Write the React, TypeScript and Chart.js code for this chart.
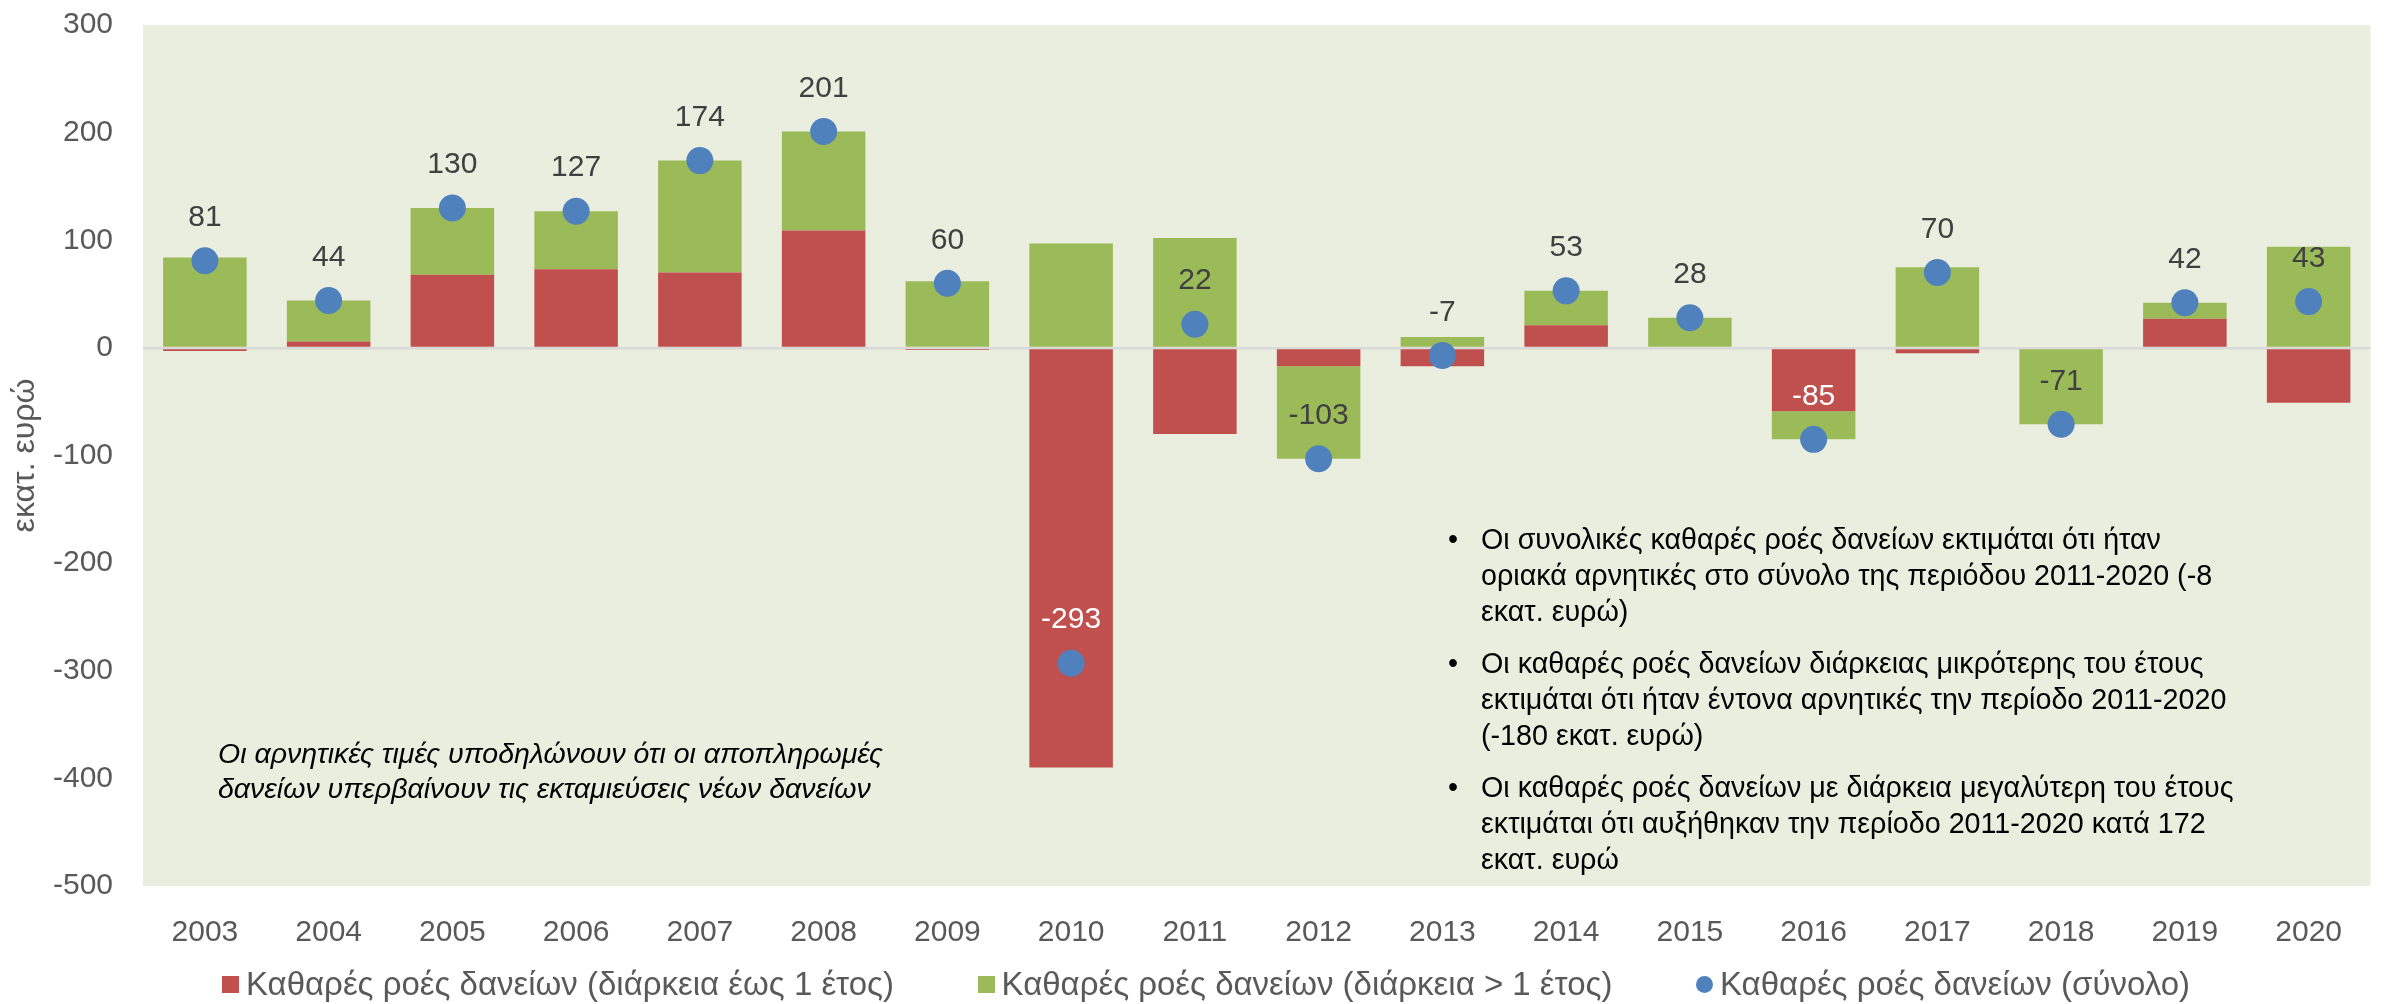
import React, { useEffect, useRef } from "react";
import { Chart, registerables } from "chart.js";

Chart.register(...registerables);

// ---------- data ----------
const years = ["2003", "2004", "2005", "2006", "2007", "2008", "2009", "2010", "2011", "2012", "2013", "2014", "2015", "2016", "2017", "2018", "2019", "2020"];
const shortTermFlows = [-3, 6, 68, 73, 70, 109, -2, -390, -80, -17, -17, 21, 0, -59, -5, 0, 27, -51];
const longTermFlows = [84, 38, 62, 54, 104, 92, 62, 97, 102, -86, 10, 32, 28, -26, 75, -71, 15, 94];
const totalFlows = [81, 44, 130, 127, 174, 201, 60, -293, 22, -103, -7, 53, 28, -85, 70, -71, 42, 43];
const seriesNames = [
  "Καθαρές ροές δανείων (διάρκεια έως 1 έτος)",
  "Καθαρές ροές δανείων (διάρκεια > 1 έτος)",
  "Καθαρές ροές δανείων (σύνολο)",
];
const yMin = -500;
const yMax = 300;
const yStep = 100;
const yAxisTitle = "εκατ. ευρώ";
const whiteLabelYears = ["2010", "2016"];
const noteLines = [
  "Οι αρνητικές τιμές υποδηλώνουν ότι οι αποπληρωμές",
  "δανείων υπερβαίνουν τις εκταμιεύσεις νέων δανείων",
];
const bulletParagraphs = [
  [
    "Οι συνολικές καθαρές ροές δανείων εκτιμάται ότι ήταν",
    "οριακά αρνητικές στο σύνολο της περιόδου 2011-2020 (-8",
    "εκατ. ευρώ)",
  ],
  [
    "Οι καθαρές ροές δανείων διάρκειας μικρότερης του έτους",
    "εκτιμάται ότι ήταν έντονα αρνητικές την περίοδο 2011-2020",
    "(-180 εκατ. ευρώ)",
  ],
  [
    "Οι καθαρές ροές δανείων με διάρκεια μεγαλύτερη του έτους",
    "εκτιμάται ότι αυξήθηκαν την περίοδο 2011-2020 κατά 172",
    "εκατ. ευρώ",
  ],
];

// ---------- styles ----------
const FONT = "'Liberation Sans', Arial, sans-serif";
const RED = "#C0504D";
const GREEN = "#9BBB59";
const BLUE = "#4F81BD";
const PLOT_BG = "#EAEEDF";
const AXIS_TEXT = "#595959";
const W = 2384;
const H = 1004;

const plotBackground = {
  id: "plotBackground",
  beforeDraw(chart: any) {
    const { ctx, chartArea } = chart;
    ctx.save();
    ctx.fillStyle = PLOT_BG;
    ctx.fillRect(chartArea.left, chartArea.top, chartArea.right - chartArea.left, chartArea.bottom - chartArea.top);
    ctx.restore();
  },
};

const extraText = {
  id: "extraText",
  afterDatasetsDraw(chart: any) {
    const { ctx, chartArea } = chart;
    ctx.save();
    // value labels above the total points
    const meta = chart.getDatasetMeta(2);
    ctx.font = `30px ${FONT}`;
    ctx.textAlign = "center";
    ctx.textBaseline = "middle";
    meta.data.forEach((pt: any, i: number) => {
      ctx.fillStyle = whiteLabelYears.includes(years[i]) ? "#FFFFFF" : "#404040";
      ctx.fillText(String(totalFlows[i]), pt.x, pt.y - 43);
    });

    // y axis title
    ctx.fillStyle = AXIS_TEXT;
    ctx.font = `32px ${FONT}`;
    ctx.translate(25, (chartArea.top + chartArea.bottom) / 2);
    ctx.rotate(-Math.PI / 2);
    ctx.fillText(yAxisTitle, 0, 0);
    ctx.restore();

    // italic note
    ctx.save();
    ctx.fillStyle = "#000000";
    ctx.font = `italic 28.5px ${FONT}`;
    ctx.textAlign = "left";
    ctx.textBaseline = "middle";
    noteLines.forEach((line, i) => {
      ctx.fillText(line, chartArea.left + 75, chartArea.top + 730 + i * 35);
    });

    // bullet paragraphs
    ctx.font = `28.7px ${FONT}`;
    let y = chartArea.top + 516;
    bulletParagraphs.forEach((para) => {
      ctx.fillText("•", 1448, y);
      para.forEach((line) => {
        ctx.fillText(line, 1481, y);
        y += 36;
      });
      y += 16;
    });
    ctx.restore();
  },
};

export default function App() {
  const canvasRef = useRef<HTMLCanvasElement | null>(null);

  useEffect(() => {
    const canvas = canvasRef.current;
    if (!canvas) return;
    const chart = new Chart(canvas, {
      type: "bar",
      data: {
        labels: years,
        datasets: [
          {
            type: "bar",
            label: seriesNames[0],
            data: shortTermFlows,
            backgroundColor: RED,
            borderWidth: 0,
            order: 2,
          },
          {
            type: "bar",
            label: seriesNames[1],
            data: longTermFlows,
            backgroundColor: GREEN,
            borderWidth: 0,
            order: 2,
          },
          {
            type: "line",
            label: seriesNames[2],
            data: totalFlows,
            showLine: false,
            pointRadius: 13.5,
            pointHoverRadius: 13.5,
            pointBackgroundColor: BLUE,
            pointBorderWidth: 0,
            borderColor: BLUE,
            stack: "total",
            order: 0,
          } as any,
        ],
      },
      options: {
        animation: false,
        responsive: false,
        devicePixelRatio: 1,
        layout: { padding: { top: 25, left: 0, right: 0, bottom: 0 } },
        datasets: {
          bar: { categoryPercentage: 0.675, barPercentage: 1 },
        },
        plugins: {
          legend: { display: false },
          tooltip: { enabled: false },
        },
        scales: {
          x: {
            stacked: true,
            grid: { display: false },
            border: { display: false },
            ticks: {
              color: AXIS_TEXT,
              font: { family: FONT, size: 30 },
              padding: 21,
              maxRotation: 0,
            },
            afterFit: (s: any) => {
              s.height = 118;
              s.paddingLeft = 0;
              s.paddingRight = 0;
            },
          },
          y: {
            stacked: true,
            min: yMin,
            max: yMax,
            grid: {
              color: (c: any) => (c.tick && c.tick.value === 0 ? "#D9D9D9" : "rgba(0,0,0,0)"),
              lineWidth: 2.5,
              drawTicks: false,
            },
            border: { display: false },
            ticks: {
              stepSize: yStep,
              color: AXIS_TEXT,
              font: { family: FONT, size: 30 },
              padding: 30,
            },
            afterFit: (s: any) => {
              s.width = 143;
              s.paddingTop = 0;
              s.paddingBottom = 0;
            },
          },
        },
      },
      plugins: [plotBackground, extraText],
    });
    return () => chart.destroy();
  }, []);

  const legendColors = [RED, GREEN, BLUE];

  return (
    <div style={{ position: "relative", width: W, height: H, background: "#FFFFFF" }}>
      <style>{`body{margin:0;}`}</style>
      <canvas ref={canvasRef} width={W} height={H} style={{ display: "block", width: W, height: H }} />
      <div
        style={{
          position: "absolute",
          left: 222,
          width: 1968,
          top: 964,
          height: 40,
          display: "flex",
          alignItems: "center",
          justifyContent: "space-between",
          fontFamily: FONT,
          fontSize: 33,
          color: AXIS_TEXT,
          whiteSpace: "nowrap",
        }}
      >
        {seriesNames.map((name, i) => (
          <div key={name} style={{ display: "flex", alignItems: "center" }}>
            <span
              style={{
                display: "inline-block",
                width: 17,
                height: 17,
                background: legendColors[i],
                borderRadius: i === 2 ? "50%" : 0,
                marginRight: 7,
              }}
            />
            <span>{name}</span>
          </div>
        ))}
      </div>
    </div>
  );
}
